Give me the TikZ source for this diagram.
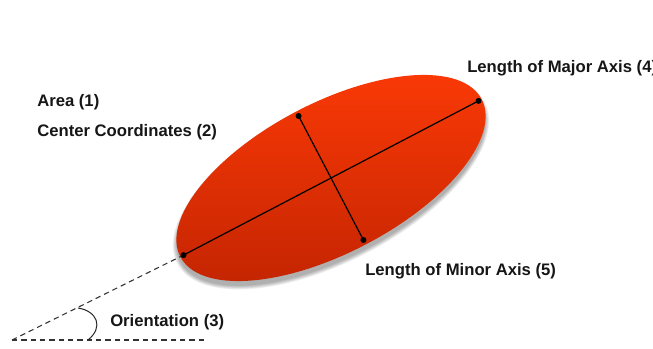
\documentclass[tikz,border=0pt]{standalone}
\usepackage{fontspec}
\setmainfont{Liberation Sans}
\definecolor{ellA}{RGB}{252,58,6}
\definecolor{ellB}{RGB}{194,36,2}
\definecolor{txt}{RGB}{22,22,22}
\begin{document}
\begin{tikzpicture}[x=0.75pt,y=-0.75pt,
  lbl/.style={anchor=base west, inner sep=0pt, font=\fontsize{12.5}{14}\selectfont\bfseries, text=txt},
  axisline/.style={black, line width=0.9pt},
  dotmark/.style={circle, fill=black, inner sep=0pt, minimum size=4.5pt},
  guide/.style={dash pattern=on 4pt off 3pt, black!80, line width=0.8pt},
  anglemark/.style={black!85, line width=0.75pt},
]
\useasboundingbox (0,0) rectangle (653,349);
\fill[white] (0,0) rectangle (653,349);

% ellipse shadow (soft, below)
\coordinate (C) at (331,178);
\coordinate (Cs) at (331,183);
\foreach \k in {1,...,8}{
  \fill[black, opacity=0.045, rotate around={27.6:(Cs)}]
    (Cs) ellipse [x radius={169+\k*0.6}, y radius={74+\k*0.6}];
}
% ellipse
\shade[rotate around={27.6:(C)}, top color=ellA, bottom color=ellB]
  (C) ellipse [x radius=170, y radius=75];

% axis end points
\coordinate (M1) at (183.5,255.1);
\coordinate (M2) at (478.5,100.9);
\coordinate (m1) at (298.6,116);
\coordinate (m2) at (363.4,240);
\coordinate (V) at (12,340);
\coordinate (H) at (205,340);

% guides
\draw[guide] (V) -- (M1);
\draw[guide] (V) -- (H);
\draw[anglemark] (78,308) .. controls (97,311) and (104,327) .. (88,340);

% axes
\draw[axisline] (M1) -- (M2);
\draw[axisline] (m1) -- (m2);
\node[dotmark] (dM1) at (M1) {};
\node[dotmark] (dM2) at (M2) {};
\node[dotmark] (dm1) at (m1) {};
\node[dotmark] (dm2) at (m2) {};

% labels
\node[lbl] (area) at (37,107) {Area (1)};
\node[lbl] (center) at (37,137) {Center Coordinates (2)};
\node[lbl] (major) at (467,73) {Length of Major Axis (4)};
\node[lbl] (minor) at (365,275) {Length of Minor Axis (5)};
\node[lbl] (orient) at (110,326) {Orientation (3)};
\end{tikzpicture}
\end{document}
